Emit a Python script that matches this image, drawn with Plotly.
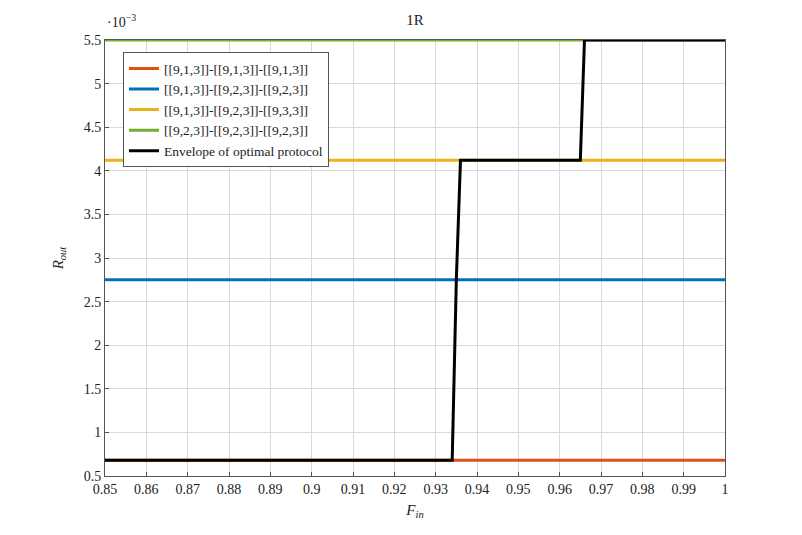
import plotly.graph_objects as go

# Data
x_range = [0.85, 1.0]
series_names = [
    "[[9,1,3]]-[[9,1,3]]-[[9,1,3]]",
    "[[9,1,3]]-[[9,2,3]]-[[9,2,3]]",
    "[[9,1,3]]-[[9,2,3]]-[[9,3,3]]",
    "[[9,2,3]]-[[9,2,3]]-[[9,2,3]]",
]
series_values = [0.68, 2.75, 4.12, 5.5]
series_colors = ["#D95319", "#0072BD", "#EDB120", "#77AC30"]

envelope_x = [0.85, 0.934, 0.935, 0.936, 0.965, 0.966, 1.0]
envelope_y = [0.68, 0.68, 2.75, 4.12, 4.12, 5.5, 5.5]

x_ticks = [0.85, 0.86, 0.87, 0.88, 0.89, 0.9, 0.91, 0.92, 0.93, 0.94, 0.95, 0.96, 0.97, 0.98, 0.99, 1.0]
x_ticklabels = ["0.85", "0.86", "0.87", "0.88", "0.89", "0.9", "0.91", "0.92", "0.93", "0.94",
                "0.95", "0.96", "0.97", "0.98", "0.99", "1"]
y_ticks = [0.5, 1, 1.5, 2, 2.5, 3, 3.5, 4, 4.5, 5, 5.5]
y_ticklabels = ["0.5", "1", "1.5", "2", "2.5", "3", "3.5", "4", "4.5", "5", "5.5"]

FONT = "Liberation Serif"

fig = go.Figure()
for name, val, col in zip(series_names, series_values, series_colors):
    fig.add_trace(go.Scatter(
        x=x_range, y=[val, val], mode="lines", name=name,
        line=dict(color=col, width=3), cliponaxis=False,
    ))
fig.add_trace(go.Scatter(
    x=envelope_x, y=envelope_y, mode="lines", name="Envelope of optimal protocol",
    line=dict(color="black", width=3), cliponaxis=False,
))

axis_common = dict(
    showgrid=True, gridcolor="#d9d9d9", gridwidth=1,
    showline=True, linecolor="#555555", linewidth=1, mirror=True,
    zeroline=False, ticks="inside", ticklen=4, tickcolor="#555555",
    tickfont=dict(family=FONT, size=14, color="#222222"),
)
fig.update_xaxes(range=x_range, tickvals=x_ticks, ticktext=x_ticklabels,
                 title=dict(text="<i>F</i><sub><i>in</i></sub>", font=dict(family=FONT, size=15, color="#222222"), standoff=8),
                 **axis_common)
fig.update_yaxes(range=[0.5, 5.5], tickvals=y_ticks, ticktext=y_ticklabels,
                 title=dict(text="<i>R</i><sub><i>out</i></sub>", font=dict(family=FONT, size=15, color="#222222"), standoff=16),
                 **axis_common)

fig.update_layout(
    width=802, height=535,
    margin=dict(l=97, r=85, t=32, b=67),
    paper_bgcolor="white", plot_bgcolor="white",
    title=dict(text="1R", x=(97 + 310) / 802, xanchor="center", y=1 - 12 / 535, yanchor="middle",
               font=dict(family=FONT, size=15, color="#222222")),
    legend=dict(x=0.029, y=0.972, xanchor="left", yanchor="top",
                bgcolor="white", bordercolor="#555555", borderwidth=1,
                font=dict(family=FONT, size=13.5, color="#222222"),
                tracegroupgap=0, itemwidth=30),
    showlegend=True,
    annotations=[dict(text="·10<sup>−3</sup>", xref="paper", yref="paper", x=0.0, y=1.0,
                      xanchor="left", yanchor="bottom", yshift=8, showarrow=False,
                      font=dict(family=FONT, size=14, color="#222222"))],
)

fig.write_html("out.html")
